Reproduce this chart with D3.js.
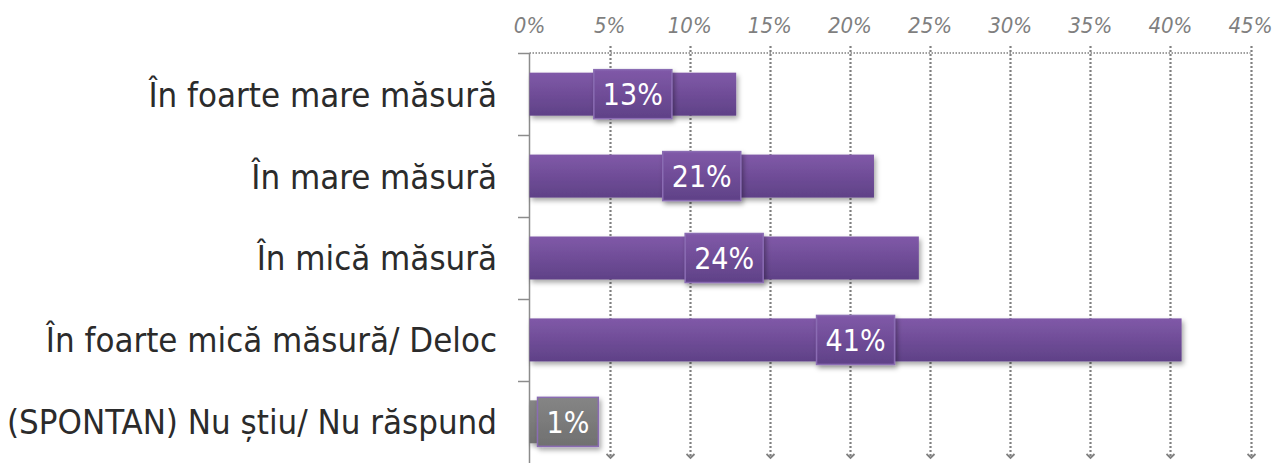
<!DOCTYPE html>
<html>
<head>
<meta charset="utf-8">
<script src="https://cdn.jsdelivr.net/npm/d3@7"></script>
<style>
  body { margin: 0; background: #fff; }
  svg { display: block; }
</style>
</head>
<body>
<svg></svg>
<script>
"use strict";

var categories = ["În foarte mare măsură", "În mare măsură", "În mică măsură", "În foarte mică măsură/ Deloc", "(SPONTAN) Nu știu/ Nu răspund"];
var values = [12.9, 21.5, 24.3, 40.7, 0.6];
var labels = ["13%", "21%", "24%", "41%", "1%"];
var ticks = [0, 5, 10, 15, 20, 25, 30, 35, 40, 45];

var width = 1273, height = 463;
var svg = d3.select("svg").attr("width", width).attr("height", height);
var font = "'DejaVu Sans Condensed', 'DejaVu Sans', sans-serif";

var x = d3.scaleLinear().domain([0, 45]).range([529.5, 1250.5]);
var y = d3.scaleBand().domain(categories).range([53, 463]).paddingInner(0.475).paddingOuter(0.24);
var band = d3.scaleBand().domain(categories).range([53, 463]);

var defs = svg.append("defs");

var purple = defs.append("linearGradient").attr("id", "purple").attr("x1", 0).attr("y1", 0).attr("x2", 0).attr("y2", 1);
purple.append("stop").attr("offset", "0").attr("stop-color", "#8059a8");
purple.append("stop").attr("offset", "1").attr("stop-color", "#5f4187");

var grey = defs.append("linearGradient").attr("id", "grey").attr("x1", 0).attr("y1", 0).attr("x2", 0).attr("y2", 1);
grey.append("stop").attr("offset", "0").attr("stop-color", "#858585");
grey.append("stop").attr("offset", "1").attr("stop-color", "#707070");

var shadow = defs.append("filter").attr("id", "shadow").attr("x", "-10%").attr("y", "-30%").attr("width", "130%").attr("height", "180%");
shadow.append("feDropShadow").attr("dx", 2).attr("dy", 3).attr("stdDeviation", 2.5).attr("flood-color", "#000").attr("flood-opacity", 0.35);

defs.append("marker").attr("id", "arrow")
  .attr("viewBox", "0 0 10 10").attr("refX", 5).attr("refY", 8)
  .attr("markerWidth", 10).attr("markerHeight", 10).attr("markerUnits", "userSpaceOnUse")
  .attr("orient", "0")
  .append("path").attr("d", "M1,4 L5,8 L9,4").attr("fill", "none").attr("stroke", "#808080").attr("stroke-width", 1.8);

// gridlines
svg.append("g").selectAll("line").data(ticks.slice(1)).enter().append("line")
  .attr("x1", function (d) { return Math.round(x(d)) + 0.5; })
  .attr("x2", function (d) { return Math.round(x(d)) + 0.5; })
  .attr("y1", 46).attr("y2", 458)
  .attr("stroke", "#808080").attr("stroke-width", 2.2).attr("stroke-dasharray", "2,2")
  .attr("marker-end", "url(#arrow)");

svg.append("line").attr("x1", x(0)).attr("x2", x(45)).attr("y1", 53).attr("y2", 53)
  .attr("stroke", "#808080").attr("stroke-width", 1.5).attr("stroke-dasharray", "1.5,1.5");

// tick labels
svg.append("g").selectAll("text").data(ticks).enter().append("text")
  .attr("x", function (d) { return x(d); }).attr("y", 33)
  .attr("text-anchor", "middle")
  .style("font-family", font).style("font-style", "italic")
  .style("font-size", "22px").style("fill", "#7f7f7f")
  .text(function (d) { return d + "%"; });

// y axis
var yAxis = svg.append("g");
yAxis.append("line").attr("x1", 529.5).attr("x2", 529.5).attr("y1", 53).attr("y2", 463).attr("stroke", "#8c8c8c").attr("stroke-width", 1.5);
yAxis.selectAll("line.tick").data(categories).enter().append("line")
  .attr("x1", 518).attr("x2", 529.5)
  .attr("y1", function (d) { return Math.round(band(d)) + 0.5; })
  .attr("y2", function (d) { return Math.round(band(d)) + 0.5; })
  .attr("stroke", "#8c8c8c").attr("stroke-width", 1.5);

// category labels
svg.append("g").selectAll("text").data(categories).enter().append("text")
  .attr("x", 497).attr("y", function (d) { return y(d) + y.bandwidth() / 2; })
  .attr("dy", "0.36em").attr("text-anchor", "end")
  .style("font-family", font).style("font-size", "34.5px").style("fill", "#2b2b2b")
  .text(function (d) { return d; });

// bars
var rows = categories.map(function (c, i) { return { cat: c, value: values[i], label: labels[i], last: i === categories.length - 1 }; });

svg.append("g").selectAll("rect").data(rows).enter().append("rect")
  .attr("x", x(0)).attr("y", function (d) { return y(d.cat); })
  .attr("width", function (d) { return x(d.value) - x(0); })
  .attr("height", y.bandwidth())
  .attr("fill", function (d) { return d.last ? "url(#grey)" : "url(#purple)"; })
  .attr("filter", "url(#shadow)");

// value label boxes
var lab = svg.append("g").selectAll("g").data(rows).enter().append("g");

lab.each(function (d) {
  var g = d3.select(this);
  var t = g.append("text")
    .attr("text-anchor", "middle").attr("dy", "0.36em")
    .style("font-family", font).style("font-size", "30px").style("fill", "#fff")
    .text(d.label);
  var w = t.node().getComputedTextLength() + 18;
  var h = y.bandwidth() + 6;
  var cx = Math.max((x(0) + x(d.value)) / 2, x(0) + 8 + w / 2);
  var cy = y(d.cat) + y.bandwidth() / 2;
  g.insert("rect", "text")
    .attr("x", cx - w / 2).attr("y", cy - h / 2).attr("width", w).attr("height", h)
    .attr("fill", d.last ? "url(#grey)" : "url(#purple)")
    .attr("stroke", "#8a6cb3").attr("stroke-width", 1.5)
    .attr("filter", "url(#shadow)");
  t.attr("x", cx).attr("y", cy);
});
</script>
</body>
</html>
